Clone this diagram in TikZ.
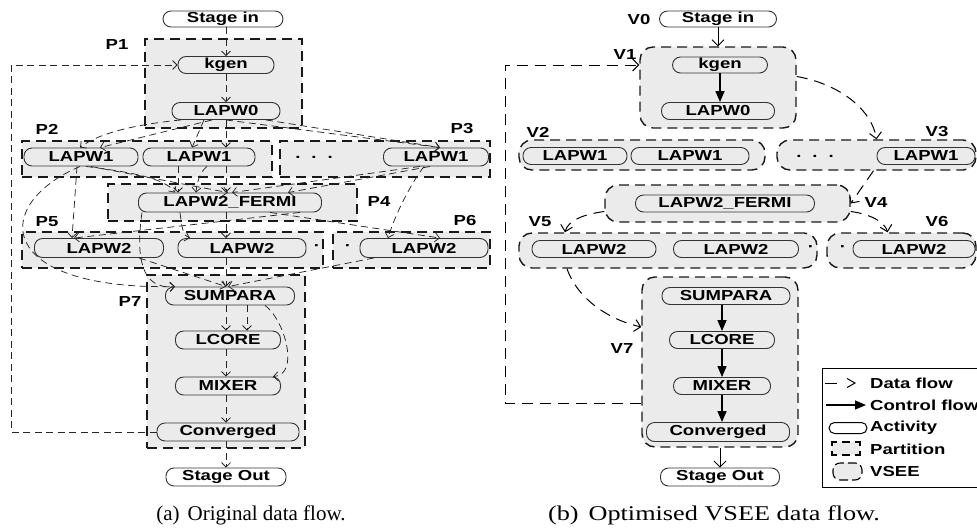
\documentclass[tikz,border=0pt]{standalone}
\usepackage{fontspec}
\setmainfont{Liberation Serif}
\newfontfamily\lblfont{Liberation Sans}[FakeStretch=1.28]
\usetikzlibrary{arrows.meta,calc}
\definecolor{partfill}{HTML}{EBEBEB}
\definecolor{actline}{HTML}{333333}
\begin{document}
\begin{tikzpicture}[x=1pt,y=-1pt,
  every node/.style={font=\lblfont\bfseries\fontsize{14.5}{16}\selectfont},
  act/.style={draw=actline, line width=0.9pt, rounded corners=8pt, minimum height=17pt, inner sep=0pt},
  part/.style={fill=partfill, draw=black!90, line width=1.4pt, dash pattern=on 10pt off 6pt, inner sep=0pt},
  vsee/.style={part, rounded corners=13pt},
  tag/.style={inner sep=0pt},
  dflow/.style={draw=black!85, line width=0.75pt, dash pattern=on 7pt off 4.5pt, -{Straight Barb[length=4.5pt,width=9pt]}},
  dflowb/.style={draw=black, line width=1pt, dash pattern=on 11pt off 7pt, -{Straight Barb[length=6pt,width=12pt]}},
  cflow/.style={draw=black, line width=1.4pt, -{Triangle[length=11pt,width=9pt]}},
  sflow/.style={draw=black, line width=0.9pt, -{Straight Barb[length=6pt,width=12pt]}}]
\useasboundingbox (0,0) rectangle (977,528);

% ---------------- (a) original data flow ----------------
% partitions
\node[part, minimum width=157pt, minimum height=89pt] (p1) at (223.5,83.5) {};
\node[part, minimum width=250pt, minimum height=36pt] (p2) at (147,159) {};
\node[part, minimum width=210pt, minimum height=36pt] (p3) at (385,159) {};
\node[part, minimum width=249pt, minimum height=37pt] (p4) at (232.5,202.5) {};
\node[part, minimum width=301pt, minimum height=36pt] (p5) at (172.5,250) {};
\node[part, minimum width=157pt, minimum height=36pt] (p6) at (411.5,250) {};
\node[part, minimum width=158pt, minimum height=173pt] (p7) at (226,361.5) {};
\node[tag] (tp1) at (117,45) {P1};
\node[tag] (tp2) at (47,129) {P2};
\node[tag] (tp3) at (462,129) {P3};
\node[tag] (tp4) at (379,202) {P4};
\node[tag] (tp5) at (47,222) {P5};
\node[tag] (tp6) at (465,221) {P6};
\node[tag] (tp7) at (130,302) {P7};

% activities
\node[act, minimum width=120pt, minimum height=16pt] (sinL) at (223,19) {Stage in};
\node[act, minimum width=96pt] (kgenL) at (226,65) {kgen};
\node[act, minimum width=108pt] (lapw0L) at (226,111) {LAPW0};
\node[act, minimum width=114pt, minimum height=18pt] (lapw1aL) at (81,157) {LAPW1};
\node[act, minimum width=112pt, minimum height=18pt] (lapw1bL) at (199,157) {LAPW1};
\node[tag] (dotsL) at (314,157) {.\hspace{11pt}.\hspace{11pt}.};
\node[act, minimum width=105pt, minimum height=18pt] (lapw1cL) at (436,157) {LAPW1};
\node[act, minimum width=183pt, minimum height=19pt] (fermiL) at (230,202.5) {LAPW2\_FERMI};
\node[act, minimum width=129pt, minimum height=19pt] (lapw2aL) at (99,248) {LAPW2};
\node[act, minimum width=128pt, minimum height=19pt] (lapw2bL) at (242,248) {LAPW2};
\node[tag] (dot5L) at (317,248) {·};
\node[tag] (dot6L) at (348,248) {·};
\node[act, minimum width=128pt, minimum height=19pt] (lapw2cL) at (424,248) {LAPW2};
\node[act, minimum width=129pt, minimum height=18pt] (sumparaL) at (230,296) {SUMPARA};
\node[act, minimum width=105pt, minimum height=18pt] (lcoreL) at (228,340) {LCORE};
\node[act, minimum width=105pt, minimum height=18pt] (mixerL) at (228,386) {MIXER};
\node[act, minimum width=142pt, minimum height=18pt] (convL) at (228,432) {Converged};
\node[act, minimum width=120pt, minimum height=18pt] (soutL) at (226,477) {Stage Out};
\coordinate (loopL) at (11,65);

% data flows
\draw[dflow] (kgenL.north |- sinL.south) -- (kgenL.north);
\draw[dflow] (kgenL.south) -- (lapw0L.north);
\draw[dflow] ([xshift=-45]lapw0L.south) .. controls (140,124) and (100,132) .. ([xshift=-1]lapw1aL.north);
\draw[dflow] ([xshift=-14]lapw0L.south) -- ([xshift=19]lapw1aL.north);
\draw[dflow] ([xshift=-22]lapw0L.south) -- ([xshift=-7]lapw1bL.north);
\draw[dflow] (lapw0L.south) -- ([xshift=27]lapw1bL.north);
\draw[dflow] (lapw0L.south) -- ([xshift=4]lapw1cL.north);
\draw[dflow] ([xshift=40]lapw0L.south) -- ([xshift=4]lapw1cL.north);
\draw[dflow] ([xshift=5]lapw1aL.south) .. controls (130,172) and (165,178) .. ([xshift=-55]fermiL.north);
\draw[dflow] ([xshift=-21]lapw1bL.south) -- ([xshift=-52]fermiL.north);
\draw[dflow] ([xshift=8]lapw1bL.south) .. controls (200,172) and (197,182) .. ([xshift=-34]fermiL.north);
\draw[dflow] ([xshift=27]lapw1bL.south) -- ([xshift=-4]fermiL.north);
\draw[dflow] ([xshift=10]lapw1aL.south) -- ([xshift=-2]fermiL.north);
\draw[dflow] ([xshift=-6]lapw1cL.south) -- ([xshift=58]fermiL.north);
\draw[dflow] ([xshift=-16]lapw1cL.south) -- ([xshift=2]fermiL.north);
\draw[dflow] ([xshift=-4]lapw1aL.south) -- ([xshift=-27]lapw2aL.north);
\draw[dflow] ([xshift=-1]lapw1aL.south) .. controls (-10,205) and (-5,290) .. ([xshift=-55]sumparaL.north);
\draw[dflow] ([xshift=-12]lapw1cL.south) .. controls (410,185) and (395,215) .. ([xshift=-36]lapw2cL.north);
\draw[dflow] ([xshift=70]fermiL.south) -- ([xshift=-25]lapw2aL.north);
\draw[dflow] ([xshift=40]fermiL.south) -- ([xshift=16]lapw2cL.north);
\draw[dflow] ([xshift=-50]fermiL.south) .. controls (182,228) and (183,236) .. ([xshift=-52]lapw2bL.north);
\draw[dflow] ([xshift=-4]fermiL.south) -- ([xshift=-16]lapw2bL.north);
\draw[dflow] ([xshift=-88]fermiL.south) .. controls (136,255) and (140,290) .. ([xshift=-55]sumparaL.north);
\draw[dflow] ([xshift=40]lapw2aL.south) -- ([xshift=-4]sumparaL.north);
\draw[dflow] ([xshift=-16]lapw2bL.south) -- ([xshift=-4]sumparaL.north);
\draw[dflow] ([xshift=-50]lapw2cL.south) -- ([xshift=-2]sumparaL.north);
\draw[dflow] ([xshift=-4]sumparaL.south) -- ([xshift=-2]lcoreL.north);
\draw[dflow] ([xshift=17]sumparaL.south) -- ([xshift=19]lcoreL.north);
\draw[dflow] ([xshift=35]sumparaL.south) .. controls (285,320) and (300,375) .. ([xshift=45]mixerL.north);
\draw[dflow] ([xshift=-2]lcoreL.south) -- ([xshift=-2]mixerL.north);
\draw[dflow] ([xshift=-2]mixerL.south) -- ([xshift=-2]convL.north);
\draw[dflow] ([xshift=-2]convL.south) -- (soutL.north);
\draw[dflow] (convL.west) -| (loopL) -- (kgenL.west);

\node[font=\fontsize{21}{24}\selectfont, inner sep=0pt] (capa) at (251,515) {(a)\hspace{8pt}Original data flow.};

% ---------------- (b) optimised VSEE data flow ----------------
\node[vsee, minimum width=156pt, minimum height=81pt] (v1) at (718,87.5) {};
\node[vsee, minimum width=246pt, minimum height=30pt] (v2) at (642,155) {};
\node[vsee, minimum width=199pt, minimum height=30pt] (v3) at (876.5,155) {};
\node[vsee, minimum width=245pt, minimum height=37pt] (v4) at (727.5,203.5) {};
\node[vsee, minimum width=298pt, minimum height=35pt] (v5) at (668,250.5) {};
\node[vsee, minimum width=149pt, minimum height=35pt] (v6) at (901.5,250.5) {};
\node[vsee, minimum width=156pt, minimum height=170pt] (v7) at (720,362) {};
\node[tag] (tv0) at (639,20) {V0};
\node[tag] (tv1) at (625,55) {V1};
\node[tag] (tv2) at (538,132) {V2};
\node[tag] (tv3) at (937,132) {V3};
\node[tag] (tv4) at (876,203) {V4};
\node[tag] (tv5) at (540,222) {V5};
\node[tag] (tv6) at (937,222) {V6};
\node[tag] (tv7) at (622,349) {V7};

\node[act, minimum width=117pt, minimum height=16pt] (sinR) at (718,19) {Stage in};
\node[act, minimum width=95pt, minimum height=16pt] (kgenR) at (720,65) {kgen};
\node[act, minimum width=113pt] (lapw0R) at (718,111) {LAPW0};
\node[act, minimum width=104pt] (lapw1aR) at (575,156) {LAPW1};
\node[act, minimum width=118pt] (lapw1bR) at (690,156) {LAPW1};
\node[tag] (dotsR) at (815,156) {.\hspace{11pt}.\hspace{11pt}.};
\node[act, minimum width=98pt] (lapw1cR) at (926,156) {LAPW1};
\node[act, minimum width=179pt] (fermiR) at (725,203.5) {LAPW2\_FERMI};
\node[act, minimum width=124pt] (lapw2aR) at (594,249) {LAPW2};
\node[act, minimum width=125pt] (lapw2bR) at (736,249) {LAPW2};
\node[tag] (dot5R) at (811,249) {·};
\node[tag] (dot6R) at (843,249) {·};
\node[act, minimum width=122pt] (lapw2cR) at (914,249) {LAPW2};
\node[act, minimum width=128pt] (sumparaR) at (726,296) {SUMPARA};
\node[act, minimum width=105pt] (lcoreR) at (722,340) {LCORE};
\node[act, minimum width=97pt] (mixerR) at (722,386) {MIXER};
\node[act, minimum width=143pt, minimum height=19pt] (convR) at (718,432) {Converged};
\node[act, minimum width=119pt, minimum height=18pt] (soutR) at (720,477) {Stage Out};
\coordinate (loopR) at (505,65);

% control flows inside VSEEs
\draw[cflow] (kgenR.south) -- (kgenR.south |- lapw0R.north);
\draw[cflow] (lcoreR.north |- sumparaR.south) -- (lcoreR.north);
\draw[cflow] (lcoreR.south) -- (mixerR.north);
\draw[cflow] (mixerR.south) -- (mixerR.south |- convR.north);

% data flows between VSEEs
\draw[sflow] (sinR.south) -- (v1.north);
\draw[sflow] (soutR.north |- v7.south) -- (soutR.north);
\draw[dflowb] ($(v1.east)+(0,-11)$) .. controls (840,84) and (872,110) .. (v3.north);
\draw[dflowb] ([xshift=-3]v3.south) -- (v4.east);
\draw[dflowb] ($(v4.west)+(0,8)$) .. controls (585,214) and (568,220) .. ([xshift=-103]v5.north);
\draw[dflowb] ($(v4.east)+(0,8)$) .. controls (870,214) and (885,222) .. ([xshift=-14]v6.north);
\draw[dflowb] ([xshift=-101]v5.south) .. controls (578,300) and (610,320) .. ($(v7.west)+(0,-35)$);
\draw[dflowb] ($(v7.west)+(0,41)$) -| (loopR) -- ($(v1.west)+(0,-22.5)$);

\node[font=\fontsize{21}{24}\selectfont, inner sep=0pt] (capb) at (714,515) {\scalebox{1.25}[1]{(b)\hspace{8pt}Optimised VSEE data flow.}};

% ---------------- legend ----------------
\draw[line width=0.8pt] (822,368) rectangle (990,487);
\draw[line width=1pt] (825,383) -- (837,383);
\draw[line width=1pt] (847,378.5) -- (855,383) -- (847,387.5);
\draw[cflow] (826,405) -- (866,405);
\draw[line width=1pt, rounded corners=5.5pt] (829,422.5) rectangle (867,433.5);
\fill[partfill] (832,442) rectangle (860,455);
\draw[line width=1.1pt] (832,446) -- (832,442) -- (837,442) (842,442) -- (850,442) (855,442) -- (860,442) -- (860,446)
  (832,451) -- (832,455) -- (837,455) (842,455) -- (850,455) (855,455) -- (860,455) -- (860,451);
\draw[line width=1.1pt, fill=partfill, rounded corners=7pt, dash pattern=on 9pt off 4pt] (833,463) rectangle (862,480);
\node[tag, anchor=west] (lg1) at (870,383) {Data flow};
\node[tag, anchor=west] (lg2) at (870,405) {Control flow};
\node[tag, anchor=west] (lg3) at (870,428) {Activity};
\node[tag, anchor=west] (lg4) at (870,449) {Partition};
\node[tag, anchor=west] (lg5) at (870,471) {VSEE};
\end{tikzpicture}
\end{document}
